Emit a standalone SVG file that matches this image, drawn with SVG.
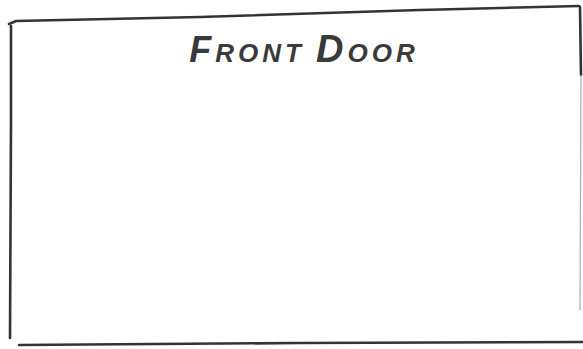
<svg xmlns="http://www.w3.org/2000/svg" width="583" height="349" viewBox="0 0 583 349">
<style>
.edge{stroke:#333;stroke-width:2.6;fill:none;stroke-linecap:round}
.faint{stroke:#aaa;stroke-width:1.2;fill:none}
.lbl{font-family:"Liberation Sans",Arial,sans-serif;font-style:italic;font-weight:bold;fill:#3a3a3a}
</style>
<rect width="583" height="349" fill="#fff"/>
<g id="outline">
<path class="edge" d="M9 24 L16 21 L200 17 L420 10 L579 6"/>
<path class="edge" d="M11 26 L11 120 L10 338"/>
<path class="edge" d="M19 345 L300 343 L583 342"/>
<path class="edge" d="M580 7 L581 75"/>
<path class="faint" d="M581 75 L580 310"/>
</g>
<g id="label">
<text class="lbl" x="304" y="62" text-anchor="middle" letter-spacing="4"><tspan font-size="36">F</tspan><tspan font-size="26">RONT</tspan><tspan font-size="26"> </tspan><tspan font-size="38">D</tspan><tspan font-size="26">OOR</tspan></text>
</g>
</svg>
